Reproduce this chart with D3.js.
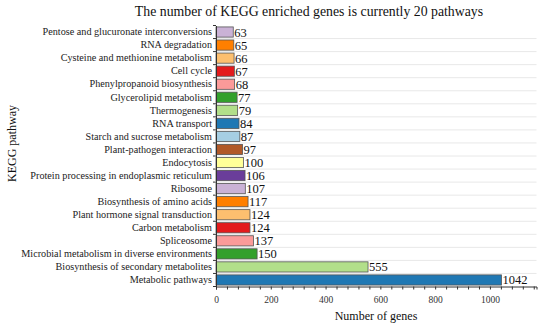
<!DOCTYPE html>
<html><head><meta charset="utf-8">
<script src="https://cdn.jsdelivr.net/npm/d3@7"></script>
<style>body{margin:0;background:#fff}svg{display:block}</style>
</head><body>
<svg id="c" width="550" height="327"></svg>
<script>
const categories = ["Pentose and glucuronate interconversions","RNA degradation","Cysteine and methionine metabolism","Cell cycle","Phenylpropanoid biosynthesis","Glycerolipid metabolism","Thermogenesis","RNA transport","Starch and sucrose metabolism","Plant-pathogen interaction","Endocytosis","Protein processing in endoplasmic reticulum","Ribosome","Biosynthesis of amino acids","Plant hormone signal transduction","Carbon metabolism","Spliceosome","Microbial metabolism in diverse environments","Biosynthesis of secondary metabolites","Metabolic pathways"];
const values = [63,65,66,67,68,77,79,84,87,97,100,106,107,117,124,124,137,150,555,1042];
const xTicks = [0,200,400,600,800,1000];
const titleText = "The number of KEGG enriched genes is currently 20 pathways";
const xLabel = "Number of genes";
const yLabel = "KEGG pathway";

const svg = d3.select("#c");
const font = "'Liberation Serif', 'Times New Roman', serif";
const x = d3.scaleLinear().domain([0,1170]).range([216,536.5]);
const y = d3.scaleBand().domain(categories).range([25.5,286.5]).paddingInner(0.22).paddingOuter(0.11);
const n = categories.length;
const color = (i) => d3.schemePaired[(n - i) % 12];

const step = y.step();
const bounds = d3.range(n).map(i => y.range()[0] + i*step);
svg.append("g").selectAll("line").data(bounds.slice(1)).join("line")
  .attr("x1", x(0)).attr("x2", x.range()[1])
  .attr("y1", d=>d).attr("y2", d=>d)
  .attr("stroke","#e8e8e8").attr("stroke-width",1);

svg.append("g").selectAll("rect").data(values).join("rect")
  .attr("x", x(0)).attr("y", (d,i)=>y(categories[i]))
  .attr("width", d=>x(d)-x(0)).attr("height", y.bandwidth())
  .attr("fill", (d,i)=>color(i))
  .attr("stroke", "#555").attr("stroke-width", 0.8);

svg.append("g").selectAll("text").data(values).join("text")
  .attr("x", d=>x(d)+1).attr("y", (d,i)=>y(categories[i])+y.bandwidth()/2)
  .attr("dy","0.36em")
  .style("font-family",font).attr("font-size",12.5).attr("fill","#111")
  .text(d=>d);

const xAxisG = svg.append("g").attr("transform",`translate(0,${y.range()[1]})`);
xAxisG.call(d3.axisBottom(x).tickValues(d3.range(0,1161,40)).tickSize(3).tickFormat(d=> xTicks.includes(d)? d : ""));
xAxisG.select(".domain").attr("stroke","#333");
xAxisG.selectAll(".tick line").attr("stroke","#333");
xAxisG.selectAll("text").style("font-family",font).attr("font-size",9.5).attr("fill","#333").attr("dy","1.15em");

const yAxisG = svg.append("g").attr("transform",`translate(${x(0)},0)`);
yAxisG.call(d3.axisLeft(y).tickSize(0).tickPadding(4));
yAxisG.select(".domain").attr("stroke","#333");
yAxisG.selectAll("text").style("font-family",font).attr("font-size",10.2).attr("fill","#222");
svg.append("g").selectAll("line").data(bounds.concat([y.range()[1]])).join("line")
  .attr("x1", x(0)-3).attr("x2", x(0)).attr("y1", d=>d).attr("y2", d=>d)
  .attr("stroke","#333");

svg.append("text").attr("x",309).attr("y",15.5).attr("text-anchor","middle")
  .style("font-family",font).attr("font-size",13.8).attr("fill","#111").text(titleText);
svg.append("text").attr("x",376).attr("y",320).attr("text-anchor","middle")
  .style("font-family",font).attr("font-size",12).attr("fill","#111").text(xLabel);
svg.append("text").attr("transform","translate(16,143.5) rotate(-90)").attr("text-anchor","middle")
  .style("font-family",font).attr("font-size",12).attr("fill","#111").text(yLabel);
</script>
</body></html>
